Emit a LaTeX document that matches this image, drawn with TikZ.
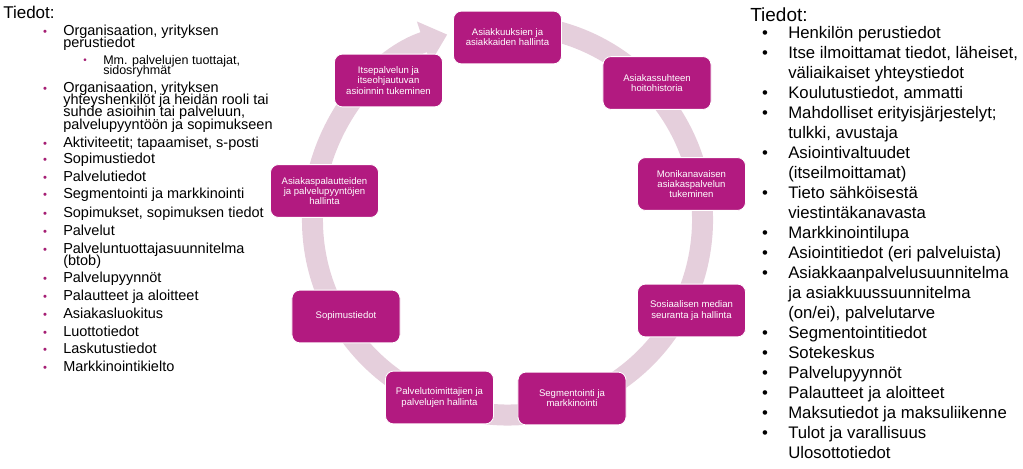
\documentclass[tikz,border=0pt]{standalone}
\usepackage{fontspec}
\setmainfont{Liberation Sans}
\usepackage{tikz}
\usetikzlibrary{arrows.meta}
\definecolor{crmM}{RGB}{178, 26,128}
\definecolor{crmRing}{RGB}{229,207,220}
\definecolor{crmBul}{RGB}{165, 30,115}

\begin{document}
\begin{tikzpicture}[x=0.025cm, y=0.025cm,
    stage/.style={draw=white, line width=0.6pt, fill=crmM, rounded corners=0.2cm,
                  minimum width=2.7cm, minimum height=1.32cm, text=white, align=center,
                  inner sep=1pt, font=\fontsize{6.8}{7.2}\selectfont},
    ring/.style={crmRing, line width=0.525cm, -{Triangle[length=0.62cm, width=1.05cm]}},
    head/.style={anchor=base west, inner sep=0pt},
    lst/.style={anchor=base west, inner sep=0pt, font=\fontsize{10.3}{12}\selectfont},
    sub/.style={anchor=base west, inner sep=0pt, font=\fontsize{8.9}{10}\selectfont},
    rlst/.style={anchor=base west, inner sep=0pt, font=\fontsize{11.9}{14}\selectfont},
    bul/.style={anchor=base, inner sep=0pt, text=crmBul, font=\fontsize{8}{9}\selectfont},
    rbul/.style={anchor=base, inner sep=0pt, font=\fontsize{11.9}{14}\selectfont}
  ]
  \useasboundingbox (0,0) rectangle (1023,-468);

  % circular arrow behind the stages
  \coordinate (ctr) at (507.5,-220);
  \draw[ring] ([shift={(80:195)}]ctr) arc[start angle=80, end angle=-252, radius=195];

  % stages
  \foreach \n/\x/\y/\t in {
      asiak/507.5/37.5/{Asiakkuuksien ja\\asiakkaiden hallinta},
      hist/657/83/{Asiakassuhteen\\hoitohistoria},
      moni/691.5/184/{Monikanavaisen\\asiakaspalvelun\\tukeminen},
      some/691.5/310.5/{Sosiaalisen median\\seuranta ja hallinta},
      segm/572/398.5/{Segmentointi ja\\markkinointi},
      palv/439.5/397.5/{Palvelutoimittajien ja\\palvelujen hallinta},
      sopi/346/316.5/{Sopimustiedot},
      pala/324.5/191/{Asiakaspalautteiden\\ja palvelupyyntöjen\\hallinta},
      itse/388.5/80.5/{Itsepalvelun ja\\itseohjautuvan\\asioinnin tukeminen}} {
    \node[stage] (\n) at (\x,-\y) {\t};
  }

  % left list
  \node[head, font=\fontsize{12.1}{14}\selectfont] (lhead) at (3,-18) {Tiedot:};
  \foreach \b/\t in {35/{Organisaation, yrityksen}, 47/perustiedot,
      92/{Organisaation, yrityksen}, 104/{yhteyshenkilöt ja heidän rooli tai},
      116/{suhde asioihin tai palveluun,}, 129/{palvelupyyntöön ja sopimukseen},
      147/{Aktiviteetit; tapaamiset, s-posti}, 163/Sopimustiedot, 181/Palvelutiedot,
      198/Segmentointi ja markkinointi, 217/{Sopimukset, sopimuksen tiedot},
      235/Palvelut, 253/Palveluntuottajasuunnitelma, 265/(btob), 282/Palvelupyynnöt,
      300/Palautteet ja aloitteet, 318/Asiakasluokitus, 336/Luottotiedot,
      353/Laskutustiedot, 371/Markkinointikielto} {
    \node[lst] (l\b) at (63,-\b) {\t};
  }
  \foreach \b in {35,92,147,163,181,198,217,235,253,282,300,318,336,353,371} {
    \node[bul] at (45,-\b) {•};
  }
  \node[sub] (lsub1) at (103,-64) {Mm. palvelujen tuottajat,};
  \node[sub] (lsub2) at (103,-74) {sidosryhmät};
  \node[bul, font=\fontsize{7}{8}\selectfont] at (85,-63) {•};

  % right list
  \node[head, font=\fontsize{13.5}{16}\selectfont] (rhead) at (750,-21.5) {Tiedot:};
  \foreach \i/\t in {0/Henkilön perustiedot, 1/{Itse ilmoittamat tiedot, läheiset,},
      2/väliaikaiset yhteystiedot, 3/{Koulutustiedot, ammatti},
      4/Mahdolliset erityisjärjestelyt;, 5/{tulkki, avustaja}, 6/Asiointivaltuudet,
      7/(itseilmoittamat), 8/Tieto sähköisestä, 9/viestintäkanavasta,
      10/Markkinointilupa, 11/Asiointitiedot (eri palveluista),
      12/Asiakkaanpalvelusuunnitelma, 13/ja asiakkuussuunnitelma,
      14/{(on/ei), palvelutarve}, 15/Segmentointitiedot, 16/Sotekeskus,
      17/Palvelupyynnöt, 18/Palautteet ja aloitteet, 19/Maksutiedot ja maksuliikenne,
      20/Tulot ja varallisuus, 21/Ulosottotiedot} {
    \node[rlst] (r\i) at (788,{-38.5-20*\i}) {\t};
  }
  \foreach \i in {0,1,3,4,6,8,10,11,12,15,16,17,18,19,20} {
    \node[rbul] at (765,{-38.5-20*\i}) {•};
  }
\end{tikzpicture}
\end{document}
